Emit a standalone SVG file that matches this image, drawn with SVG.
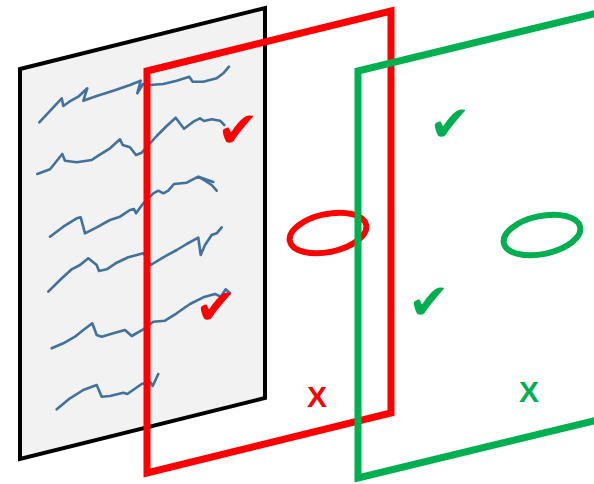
<svg xmlns="http://www.w3.org/2000/svg" width="594" height="484" viewBox="0 0 594 484">
<style>
.ink{fill:none;stroke:#41719C;stroke-width:2.6;stroke-linejoin:round;stroke-linecap:round}
.frame{fill:none;stroke-width:7;stroke-linejoin:miter}
.chk{font-family:"DejaVu Sans",sans-serif;font-size:50px}
.x{font-family:"Liberation Sans",Arial,sans-serif;font-size:30px;font-weight:bold;text-anchor:middle}
</style>
<rect width="594" height="484" fill="#fff"/>
<g id="sheet">
<polygon points="20,69 265,8 265,398 20,459" fill="#F2F2F2" stroke="#000" stroke-width="4"/>
<polyline class="ink" points="39.3,122.3 61.7,98.3 63.3,106 69.3,101.7 78.3,96.7 87.3,88.3 83.3,100.7 96.7,96 113.3,90.7 130,85 140.7,80.7 137.3,93.3 143,84 150,85 163.3,84 176.7,80.7 189.3,76.7 192.7,81.7 203.3,81.7 216.7,78.3 223.3,73.3 229,66.7"/>
<polyline class="ink" points="37.3,174 50,169.3 56.7,161 62.3,154 65,160.7 76.7,162.3 91.7,160 98.3,155.7 110,148.3 120,139.3 122.7,145 130,147.3 136,155 141.7,152.7 156.7,136 166.7,126 175.7,117.7 184,128.7 193.3,121.7 200,118.3 204,121 211.7,119.3 220,120.7 224.3,125"/>
<polyline class="ink" points="50,236.7 63.3,226.7 76.7,218.3 80.7,217.3 85,233.3 96.7,227.3 110,220 120,216.7 130,210 134,209 136,213.3 143.3,203.3 153.3,193.3 158.3,190.7 163.3,193.3 168.3,190.7 174,184 186.7,182.7 198.3,176.7 205,180.7 211.7,185 216.7,190.7"/>
<polyline class="ink" points="199,177 213.3,182"/>
<polyline class="ink" points="48.3,291.7 60,280 71.7,269.3 80,265 88.3,258.3 96.7,265 99,271 106.7,269.3 116.7,262.7 128.3,257.3 143.3,253.3 148,260 150.7,265 163.3,257.3 176.7,250 186.7,244 198.3,237.7 200.7,255 205,245 211.7,235 216.7,233.3 221.7,227.3"/>
<polyline class="ink" points="51.7,348.3 63.3,343.3 75,336.7 83.3,330 92.3,323.3 96.7,335 101.7,336.7 113.3,333.3 125,330 131.7,336 143.3,329.3 153.3,321.7 165,320.7 176.7,313.3 190,304 203.3,297.3 215,294 220.7,296.7 225.7,289.3 230,293.3 221.7,297.3"/>
<polyline class="ink" points="56.7,409.3 70,398.3 83.3,390 96.7,385 101.7,396.7 110,396 123.3,392.7 127.3,394 141.7,384 150,381.7 152.7,386 158.3,374"/>
</g>
<g id="red-layer">
<polygon class="frame" points="147,71 391,11 391,413 147,473" stroke="#FF0000"/>
<ellipse cx="328" cy="233" rx="39" ry="19" transform="rotate(-12 328 233)" fill="none" stroke="#FF0000" stroke-width="6"/>
<text class="chk" x="217" y="146.5" fill="#FF0000">✔</text>
<text class="chk" x="195" y="323.5" fill="#FF0000">✔</text>
<text class="x" x="317" y="407" fill="#FF0000">X</text>
</g>
<g id="green-layer">
<polygon class="frame" points="358,71 606,11 606,418 358,478" stroke="#00B050"/>
<ellipse cx="542" cy="235" rx="39" ry="19" transform="rotate(-12 542 235)" fill="none" stroke="#00B050" stroke-width="6"/>
<text class="chk" x="429" y="140.5" fill="#00B050">✔</text>
<text class="chk" x="408" y="318.5" fill="#00B050">✔</text>
<text class="x" x="529" y="402" fill="#00B050">X</text>
</g>
<g id="connectors"/>
</svg>
